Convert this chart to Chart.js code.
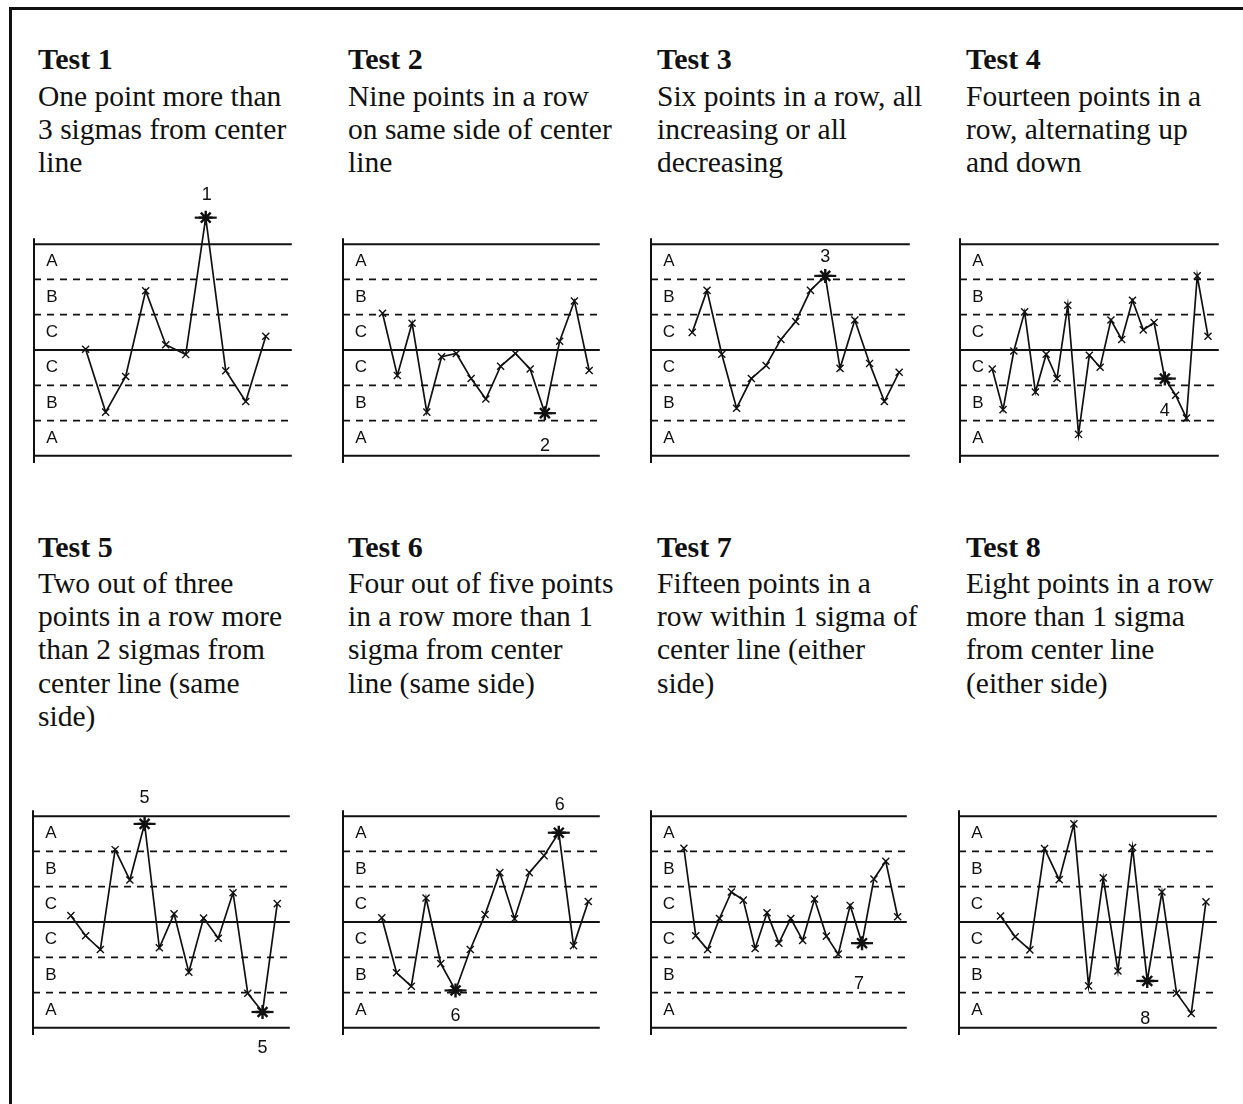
<!DOCTYPE html>
<html>
<head>
<meta charset="utf-8">
<title>Tests for special causes</title>
<script src="https://cdn.jsdelivr.net/npm/chart.js@4/dist/chart.umd.min.js"></script>
<style>
  html, body { margin: 0; padding: 0; background: #fff; }
  #page { position: relative; width: 1243px; height: 1104px; overflow: hidden; background: #fff; }
  #frame { position: absolute; left: 9px; top: 7px; right: -20px; bottom: -20px;
           border-top: 3px solid #111; border-left: 3px solid #111; }
  .title { position: absolute; font-family: "Liberation Serif", "DejaVu Serif", serif; font-weight: bold;
           font-size: 30px; line-height: 34px; white-space: nowrap; color: #111; }
  .desc  { position: absolute; font-family: "Liberation Serif", "DejaVu Serif", serif;
           font-size: 29.5px; line-height: 33.4px; white-space: nowrap; color: #111; }
  canvas { position: absolute; }
</style>
</head>
<body>
<div id="page"><div id="frame"></div></div>
<script>
// ---- Panel text ----
const testTitles = ['Test 1', 'Test 2', 'Test 3', 'Test 4', 'Test 5', 'Test 6', 'Test 7', 'Test 8'];
const testDescriptions = [
  ['One point more than', '3 sigmas from center', 'line'],
  ['Nine points in a row', 'on same side of center', 'line'],
  ['Six points in a row, all', 'increasing or all', 'decreasing'],
  ['Fourteen points in a', 'row, alternating up', 'and down'],
  ['Two out of three', 'points in a row more', 'than 2 sigmas from', 'center line (same', 'side)'],
  ['Four out of five points', 'in a row more than 1', 'sigma from center', 'line (same side)'],
  ['Fifteen points in a', 'row within 1 sigma of', 'center line (either', 'side)'],
  ['Eight points in a row', 'more than 1 sigma', 'from center line', '(either side)']
];

// ---- Zone labels, top to bottom ----
const zoneLabels = ['A', 'B', 'C', 'C', 'B', 'A'];
const sigmaLevels = [-3, -2, -1, 0, 1, 2, 3];

// ---- Observations, in sigma units from the center line ----
const test1Values = [0.02, -1.76, -0.75, 1.68, 0.15, -0.13, 3.75, -0.59, -1.46, 0.39];
const test2Values = [1.04, -0.72, 0.76, -1.76, -0.19, -0.10, -0.81, -1.39, -0.46, -0.10, -0.54, -1.79, 0.25, 1.39, -0.58];
const test3Values = [0.50, 1.69, -0.12, -1.65, -0.81, -0.44, 0.30, 0.81, 1.69, 2.10, -0.52, 0.85, -0.38, -1.46, -0.63];
const test4Values = [-0.54, -1.69, -0.03, 1.08, -1.19, -0.12, -0.81, 1.27, -2.39, -0.15, -0.49, 0.85, 0.30, 1.41, 0.57, 0.78, -0.81, -1.28, -1.93, 2.10, 0.39];
const test5Values = [0.18, -0.39, -0.78, 2.05, 1.19, 2.78, -0.73, 0.23, -1.42, 0.11, -0.46, 0.83, -2.02, -2.55, 0.52];
const test6Values = [0.12, -1.44, -1.82, 0.68, -1.18, -1.94, -0.78, 0.21, 1.40, 0.09, 1.40, 1.88, 2.53, -0.67, 0.58];
const test7Values = [2.09, -0.39, -0.78, 0.10, 0.85, 0.62, -0.75, 0.26, -0.60, 0.10, -0.52, 0.65, -0.40, -0.91, 0.47, -0.60, 1.22, 1.72, 0.15];
const test8Values = [0.17, -0.42, -0.79, 2.08, 1.20, 2.78, -1.81, 1.25, -1.39, 2.11, -1.67, 0.85, -2.02, -2.59, 0.57];

// ---- Sample numbers that fail each test ----
const test1Flags = [7];
const test2Flags = [12];
const test3Flags = [10];
const test4Flags = [17];
const test5Flags = [6, 14];
const test6Flags = [6, 13];
const test7Flags = [16];
const test8Flags = [11];

const allValues = [test1Values, test2Values, test3Values, test4Values, test5Values, test6Values, test7Values, test8Values];
const allFlags = [test1Flags, test2Flags, test3Flags, test4Flags, test5Flags, test6Flags, test7Flags, test8Flags];

// ---- Page layout ----
const textColumns = [38, 348, 657, 966];
const titleTops = [41.5, 530];
const descTops = [79.5, 566.5];

// plot frame of each panel (pixels between the +3 and -3 sigma lines) and the x range of its scale
const panels = [
  { axisX: 34,  rightX: 295,  topY: 242, bottomY: 458,  xMin: -1.58, xMax: 11.3,  labelDx: [1],       labelDy: [-23] },
  { axisX: 343, rightX: 603,  topY: 242, bottomY: 458,  xMin: -1.68, xMax: 15.72, labelDx: [0],       labelDy: [33] },
  { axisX: 651, rightX: 913,  topY: 242, bottomY: 458,  xMin: -1.79, xMax: 15.72, labelDx: [0],       labelDy: [-19] },
  { axisX: 960, rightX: 1222, topY: 242, bottomY: 458,  xMin: -1.99, xMax: 22.0,  labelDx: [0],       labelDy: [32] },
  { axisX: 33,  rightX: 293,  topY: 814, bottomY: 1030, xMin: -1.57, xMax: 15.85, labelDx: [0, 0],    labelDy: [-26, 36] },
  { axisX: 343, rightX: 603,  topY: 814, bottomY: 1030, xMin: -1.63, xMax: 15.78, labelDx: [0, 1],    labelDy: [26, -28] },
  { axisX: 651, rightX: 910,  topY: 814, bottomY: 1030, xMin: -1.77, xMax: 19.77, labelDx: [-3],      labelDy: [41] },
  { axisX: 959, rightX: 1220, topY: 814, bottomY: 1030, xMin: -1.83, xMax: 15.74, labelDx: [-2],      labelDy: [38] }
];

const page = document.getElementById('page');
const INK = '#111';
const Y_EXTENT = 4.5;          // the value scale reaches past the control limits
const PAD = { left: 20, right: 10, top: 10, bottom: 10 };

testTitles.forEach((t, i) => {
  const col = i % 4, row = Math.floor(i / 4);
  const tt = document.createElement('div');
  tt.className = 'title';
  tt.style.left = textColumns[col] + 'px';
  tt.style.top = titleTops[row] + 'px';
  tt.textContent = t;
  page.appendChild(tt);
  const dd = document.createElement('div');
  dd.className = 'desc';
  dd.style.left = textColumns[col] + 'px';
  dd.style.top = descTops[row] + 'px';
  testDescriptions[i].forEach((line, k) => {
    if (k) dd.appendChild(document.createElement('br'));
    dd.appendChild(document.createTextNode(line));
  });
  page.appendChild(dd);
});

// zone letters and test-number call-outs
const calloutPlugin = {
  id: 'callouts',
  afterDatasetsDraw(chart, args, opts) {
    const { ctx } = chart;
    const xs = chart.scales.x, ys = chart.scales.y;
    ctx.save();
    ctx.fillStyle = INK;
    ctx.textAlign = 'center';
    ctx.textBaseline = 'middle';
    ctx.font = '17px "Liberation Sans", Arial, sans-serif';
    const left = xs.getPixelForValue(xs.min);
    zoneLabels.forEach((t, i) => {
      ctx.fillText(t, left + 18, ys.getPixelForValue(2.5 - i));
    });
    ctx.font = '18px "Liberation Sans", Arial, sans-serif';
    opts.flags.forEach((n, k) => {
      const px = xs.getPixelForValue(n) + opts.dx[k];
      const py = ys.getPixelForValue(opts.values[n - 1]) + opts.dy[k];
      ctx.fillText(String(opts.testNo), px, py);
    });
    ctx.restore();
  }
};

panels.forEach((p, i) => {
  const values = allValues[i];
  const flags = allFlags[i];
  const sigma = (p.bottomY - p.topY) / 6;
  const ext = (Y_EXTENT - 3) * sigma;
  const canvas = document.createElement('canvas');
  const w = p.rightX - p.axisX + PAD.left + PAD.right;
  const h = Math.round(p.bottomY - p.topY + 2 * ext + PAD.top + PAD.bottom);
  canvas.width = w; canvas.height = h;
  canvas.style.width = w + 'px'; canvas.style.height = h + 'px';
  canvas.style.left = (p.axisX - PAD.left) + 'px';
  canvas.style.top = (p.topY - ext - PAD.top) + 'px';
  page.appendChild(canvas);

  // control limits (solid) and zone boundaries (dashed)
  const datasets = sigmaLevels.map(l => ({
    data: [{ x: p.xMin, y: l }, { x: p.xMax, y: l }],
    showLine: true, pointRadius: 0, borderColor: INK,
    borderWidth: l % 3 === 0 ? 2 : 1.8,
    borderDash: l % 3 === 0 ? [] : [7, 6],
    clip: false
  }));
  // vertical axis
  datasets.push({
    data: [{ x: p.xMin, y: -3.2 }, { x: p.xMin, y: 3.17 }],
    showLine: true, pointRadius: 0, borderColor: INK, borderWidth: 2, clip: false
  });
  // the run of observations
  datasets.push({
    data: values.map((v, k) => ({ x: k + 1, y: v })),
    showLine: true, borderColor: INK, borderWidth: 1.7, tension: 0,
    pointStyle: 'crossRot', pointRadius: 5, pointBorderWidth: 1.4,
    pointBorderColor: INK, clip: false
  });
  // failing points: asterisk with a bar through it
  const flagged = flags.map(n => ({ x: n, y: values[n - 1] }));
  datasets.push({
    data: flagged, showLine: false, pointStyle: 'star', pointRadius: 7,
    pointBorderWidth: 2.4, pointBorderColor: INK, clip: false
  });
  datasets.push({
    data: flagged, showLine: false, pointStyle: 'line', pointRadius: 11,
    pointBorderWidth: 2.2, pointBorderColor: INK, clip: false
  });

  new Chart(canvas, {
    type: 'scatter',
    data: { datasets },
    options: {
      responsive: false,
      animation: false,
      events: [],
      layout: { padding: PAD },
      scales: {
        x: { type: 'linear', min: p.xMin, max: p.xMax, display: false },
        y: { type: 'linear', min: -Y_EXTENT, max: Y_EXTENT, display: false }
      },
      plugins: {
        legend: { display: false },
        tooltip: { enabled: false },
        callouts: { flags, values, testNo: i + 1, dx: p.labelDx, dy: p.labelDy }
      }
    },
    plugins: [calloutPlugin]
  });
});
</script>
</body>
</html>
